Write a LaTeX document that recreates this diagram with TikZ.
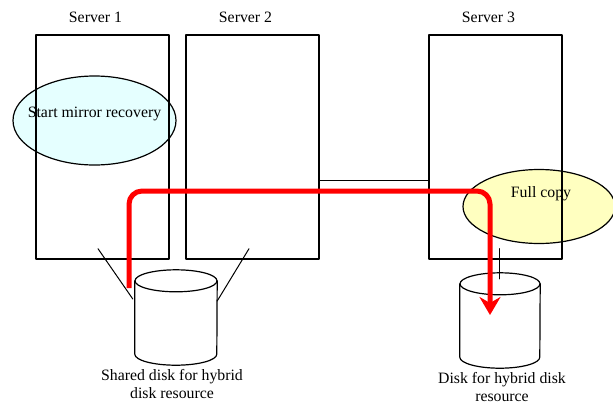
\documentclass[tikz,border=0pt]{standalone}
\usepackage{fontspec}
\setmainfont{Liberation Serif}
\usetikzlibrary{arrows.meta, calc, positioning, shapes.geometric}
\definecolor{recovcyan}{RGB}{222,255,255}
\definecolor{copyyellow}{RGB}{255,255,192}
\definecolor{flowred}{RGB}{255,0,0}

\begin{document}
\begin{tikzpicture}[
    x=1pt, y=-1pt,
    >=Stealth,
    line cap=round,
    line join=round,
    lbl/.style={font=\fontsize{15.8}{18}\selectfont},
    server/.style={draw, line width=1.4pt, minimum width=133pt, minimum height=224pt, inner sep=0pt},
    bubble/.style={ellipse, draw, line width=1.2pt, inner sep=0pt},
    disk/.style={minimum width=82pt, minimum height=95pt, inner sep=0pt},
    diskline/.style={line width=1.2pt},
    wire/.style={line width=1pt},
]

% ── Adjustable parameters ───────────────────────────────────────────────────
\def\capry{11}   % half height of a disk's end cap

% ── Frame (keeps the page at 613 x 405) ─────────────────────────────────────
\useasboundingbox (0,0) rectangle (613,405);

% ── Status bubbles (drawn first, the boxes sit on them) ─────────────────────
\node[bubble, fill=recovcyan, fill opacity=0.8, minimum width=163pt, minimum height=89pt]
    (recov) at (94.5,120.5) {};
\node[lbl] (recovtxt) at ($(recov.center)+(0,-7)$) {Start mirror recovery};

\node[bubble, fill=copyyellow, minimum width=152pt, minimum height=74pt]
    (copy) at (539,206.5) {};
\node[lbl] (copytxt) at ($(copy.center)+(2,-13)$) {Full copy};

% ── Servers ─────────────────────────────────────────────────────────────────
\node[server] (srvA) at (102.5,147) {};
\node[server] (srvB) at (252.5,147) {};
\node[server] (srvC) at (495.5,147) {};

\node[lbl, anchor=base] (srvAlbl) at ($(srvA.north)+(-7,-12)$) {Server 1};
\node[lbl, anchor=base] (srvBlbl) at ($(srvB.north)+(-7,-12)$) {Server 2};
\node[lbl, anchor=base] (srvClbl) at ($(srvC.north)+(-7,-12)$) {Server 3};

% Interconnect between server 2 and server 3
\draw[wire] ([yshift=-33pt]srvB.east) -- ([yshift=-33pt]srvC.west);

% ── Disks ───────────────────────────────────────────────────────────────────
\node[disk] (dskA) at (176,317.5) {};
\node[disk, minimum width=80pt] (dskB) at (500,320.5) {};

% cylinder outlines (body + top cap)
\draw[diskline] ($(dskA.north west)+(0,\capry)$) -- ($(dskA.south west)+(0,-\capry)$)
    arc[start angle=180, end angle=0, x radius=41, y radius=\capry]
    -- ($(dskA.north east)+(0,\capry)$);
\draw[diskline] ($(dskA.north)+(0,\capry)$) ellipse[x radius=41, y radius=\capry];

\draw[diskline] ($(dskB.north west)+(0,\capry)$) -- ($(dskB.south west)+(0,-\capry)$)
    arc[start angle=180, end angle=0, x radius=40, y radius=\capry]
    -- ($(dskB.north east)+(0,\capry)$);
\draw[diskline] ($(dskB.north)+(0,\capry)$) ellipse[x radius=40, y radius=\capry];

\node[lbl, align=center, anchor=north] (dskAlbl) at ($(dskA.south)+(-4,1)$)
    {Shared disk for hybrid\\disk resource};
\node[lbl, align=center, anchor=north] (dskBlbl) at ($(dskB.south)+(2,1)$)
    {Disk for hybrid disk\\resource};

% Cables from servers to disks
\draw[wire] ($(srvA.south)+(-4.5,-11)$) -- ($(dskA.west)+(-2,-18.5)$);
\draw[wire] ($(srvB.south)+(-3.5,-11)$) -- ($(dskA.east)+(0,-16.5)$);
\draw[wire] ($(srvC.south)+(3.5,-11)$) -- ($(dskB.north)+(-1,6)$);

% ── Copy flow ───────────────────────────────────────────────────────────────
\coordinate (flowS) at (129,288);
\coordinate (flowM) at (300,191);
\coordinate (flowE) at (490,315);
\draw[flowred, line width=5pt, rounded corners=13pt,
      -{Stealth[length=18pt, width=21pt, inset=6pt]}, line cap=butt]
    (flowS) |- (flowM) -| (flowE);

\end{tikzpicture}
\end{document}
